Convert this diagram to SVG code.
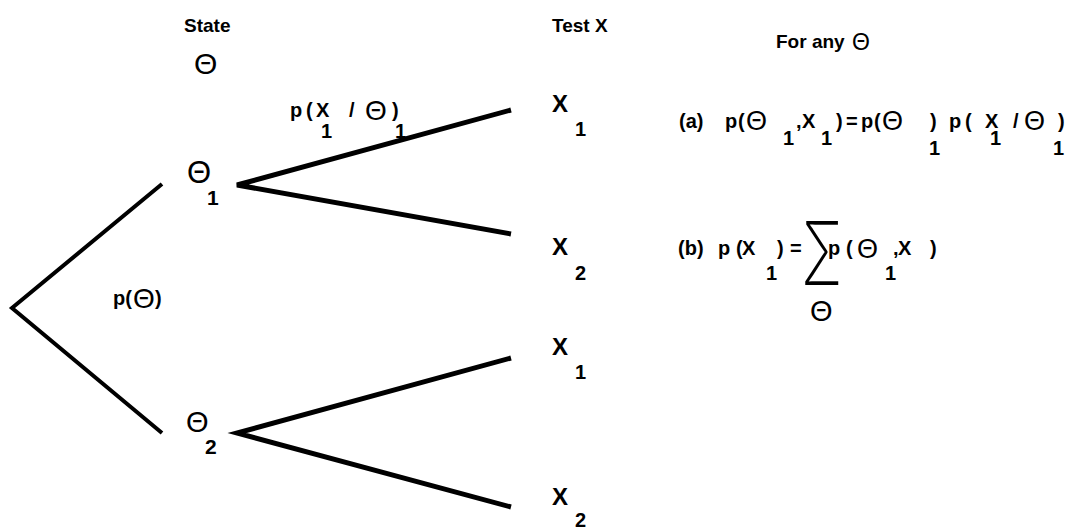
<svg xmlns="http://www.w3.org/2000/svg" width="1070" height="529" viewBox="0 0 1070 529">
<style>
.t{font-family:"Liberation Sans",Arial,Helvetica,sans-serif;font-weight:bold;fill:#000}
.th{font-family:"Liberation Sans",Arial,Helvetica,sans-serif;font-weight:normal}
.sg{font-family:Inter,"Open Sans","Liberation Sans",sans-serif;font-weight:200}
.e{stroke:#000;fill:none;stroke-linejoin:miter}
</style>
<rect width="1070" height="529" fill="#fff"/>
<g id="connectors">
<polyline class="e" stroke-width="4" points="162,184 12,308 162,433"/>
<polyline class="e" stroke-width="5" points="511,110 237,185 511,234"/>
<polyline class="e" stroke-width="5" points="511,358 237,433 511,507"/>
</g>
<g id="header-state"><text class="t" x="184" y="32" font-size="19">State</text><text class="t th" x="194" y="74" font-size="30">Θ</text></g>
<g id="header-test"><text class="t" x="552" y="32" font-size="19">Test X</text></g>
<g id="for-any"><text class="t" x="776" y="48" font-size="19">For any</text><text class="t th" x="852" y="50" font-size="23">Θ</text></g>
<g id="edge-label"><text class="t" font-size="20"><tspan x="290" y="117">p</tspan><tspan x="306" y="117">(</tspan><tspan x="316" y="117">X</tspan><tspan x="349" y="117">/</tspan><tspan class="th" x="365" y="120" font-size="28">Θ</tspan><tspan x="392" y="117">)</tspan><tspan x="321" y="138">1</tspan><tspan x="395" y="138">1</tspan></text></g>
<g id="node-theta1"><text class="t th" x="187" y="183" font-size="31">Θ</text><text class="t" x="207" y="205" font-size="21">1</text></g>
<g id="node-theta2"><text class="t th" x="186" y="432" font-size="29">Θ</text><text class="t" x="205" y="454" font-size="21">2</text></g>
<g id="prior-label"><text class="t" font-size="20"><tspan x="113" y="305">p(</tspan><tspan class="th" x="133" y="308" font-size="28">Θ</tspan><tspan x="155" y="305">)</tspan></text></g>
<g id="node-x1a"><text class="t" x="552" y="112" font-size="24">X</text><text class="t" x="575" y="136" font-size="20">1</text></g>
<g id="node-x2a"><text class="t" x="552" y="255" font-size="24">X</text><text class="t" x="575" y="280" font-size="20">2</text></g>
<g id="node-x1b"><text class="t" x="552" y="355" font-size="24">X</text><text class="t" x="575" y="379" font-size="20">1</text></g>
<g id="node-x2b"><text class="t" x="552" y="505" font-size="24">X</text><text class="t" x="575" y="527" font-size="20">2</text></g>
<g id="formula-a"><text class="t" font-size="20"><tspan x="679" y="128">(a)</tspan><tspan x="725" y="128">p</tspan><tspan x="738" y="128">(</tspan><tspan class="th" x="746" y="130" font-size="27">Θ</tspan><tspan x="783" y="145">1</tspan><tspan x="796" y="128">,</tspan><tspan x="802" y="128">X</tspan><tspan x="821" y="145">1</tspan><tspan x="836" y="128">)</tspan><tspan x="846" y="128">=</tspan><tspan x="861" y="128">p</tspan><tspan x="874" y="128">(</tspan><tspan class="th" x="882" y="130" font-size="27">Θ</tspan><tspan x="930" y="128">)</tspan><tspan x="929" y="155">1</tspan><tspan x="949" y="128">p</tspan><tspan x="965" y="128">(</tspan><tspan x="985" y="128">X</tspan><tspan x="990" y="145">1</tspan><tspan x="1013" y="128">/</tspan><tspan class="th" x="1024" y="130" font-size="27">Θ</tspan><tspan x="1058" y="128">)</tspan><tspan x="1053" y="155">1</tspan></text></g>
<g id="formula-b"><text class="t" font-size="20"><tspan x="678" y="255">(b)</tspan><tspan x="718" y="255">p</tspan><tspan x="736" y="255">(</tspan><tspan x="742" y="255">X</tspan><tspan x="766" y="280">1</tspan><tspan x="777" y="255">)</tspan><tspan x="790" y="255">=</tspan><tspan x="828" y="255">p</tspan><tspan x="846" y="255">(</tspan><tspan class="th" x="857" y="258" font-size="27">Θ</tspan><tspan x="885" y="280">1</tspan><tspan x="893" y="255">,</tspan><tspan x="898" y="255">X</tspan><tspan x="930" y="255">)</tspan></text><text class="sg" transform="translate(801,285) scale(1.35,1.95)" font-size="45">Σ</text><text class="t th" x="810" y="321" font-size="29">Θ</text></g>
</svg>
